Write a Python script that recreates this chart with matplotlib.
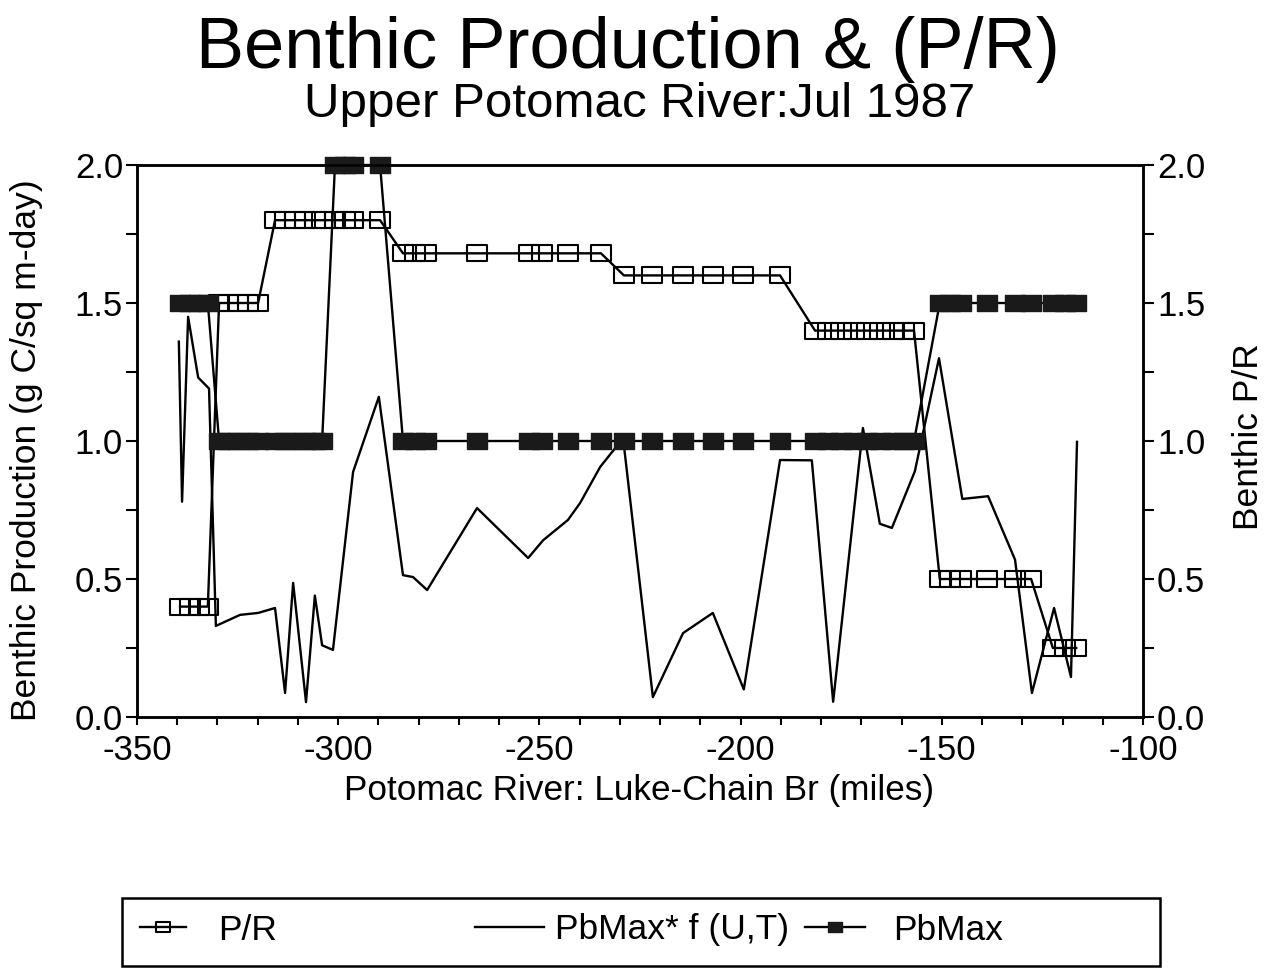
import matplotlib
matplotlib.use("Agg")
import matplotlib.pyplot as plt
from matplotlib.ticker import MultipleLocator, FormatStrFormatter
from matplotlib.path import Path
from matplotlib.patches import Rectangle

plt.rcParams['font.family'] = ['Liberation Sans', 'DejaVu Sans']
plt.rcParams['axes.unicode_minus'] = False

# ---- data (river miles, Luke -> Chain Bridge) ----
seg_miles = [-339.3, -336.8, -334.6, -332.4,
             -329.6, -327.4, -324.9, -322.4, -319.9,
             -315.7, -313.2, -310.7, -308.3, -305.8, -304.0, -300.8, -298.3, -296.3, -289.6,
             -283.9, -280.9, -278.2, -265.5, -252.6, -249.4, -242.9, -234.7,
             -229.0, -222.0, -214.3, -206.9, -199.4, -190.2,
             -181.5, -178.3, -175.0, -171.8, -168.6, -165.4, -162.1, -159.4, -156.9,
             -150.5, -148.0, -145.2, -138.8, -131.8, -127.8,
             -122.4, -119.4, -116.6]

pr_values = [0.4, 0.4, 0.4, 0.4,
             1.5, 1.5, 1.5, 1.5, 1.5,
             1.8, 1.8, 1.8, 1.8, 1.8, 1.8, 1.8, 1.8, 1.8, 1.8,
             1.68, 1.68, 1.68, 1.68, 1.68, 1.68, 1.68, 1.68,
             1.6, 1.6, 1.6, 1.6, 1.6, 1.6,
             1.4, 1.4, 1.4, 1.4, 1.4, 1.4, 1.4, 1.4, 1.4,
             0.5, 0.5, 0.5, 0.5, 0.5, 0.5,
             0.25, 0.25, 0.25]

pbmax_values = [1.5, 1.5, 1.5, 1.5,
                1.0, 1.0, 1.0, 1.0, 1.0,
                1.0, 1.0, 1.0, 1.0, 1.0, 1.0, 2.0, 2.0, 2.0, 2.0,
                1.0, 1.0, 1.0, 1.0, 1.0, 1.0, 1.0, 1.0,
                1.0, 1.0, 1.0, 1.0, 1.0, 1.0,
                1.0, 1.0, 1.0, 1.0, 1.0, 1.0, 1.0, 1.0, 1.0,
                1.5, 1.5, 1.5, 1.5, 1.5, 1.5,
                1.5, 1.5, 1.5]

pbf_miles = [-339.6, -338.8, -337.3, -334.8, -332.1, -330.4, -324.4, -319.9, -315.7, -313.2,
             -311.2, -308.0, -305.8, -304.0, -301.3, -296.3, -289.9, -283.9, -281.4, -277.9,
             -265.5, -252.8, -249.1, -242.9, -239.9, -234.9, -229.2, -221.8, -214.3, -206.9,
             -199.2, -190.2, -182.3, -177.0, -169.6, -165.4, -162.4, -156.7, -150.7, -144.9,
             -138.5, -131.8, -127.6, -122.1, -117.9, -116.4]
pbf_values = [1.36, 0.78, 1.45, 1.23, 1.19, 0.33, 0.37, 0.377, 0.395, 0.087,
              0.486, 0.054, 0.44, 0.26, 0.243, 0.888, 1.16, 0.514, 0.507, 0.46,
              0.757, 0.576, 0.64, 0.714, 0.775, 0.906, 1.01, 0.072, 0.304, 0.377,
              0.10, 0.931, 0.93, 0.055, 1.047, 0.70, 0.685, 0.89, 1.30, 0.79,
              0.80, 0.57, 0.087, 0.395, 0.145, 0.997]

series_labels = ['P/R', 'PbMax* f (U,T)', 'PbMax']

# ---- figure ----
W, H = 1277, 968
fig = plt.figure(figsize=(W / 100, H / 100), dpi=100)
ax = fig.add_axes([137 / W, 1 - 717 / H, (1143 - 137) / W, (717 - 165) / H])

rect = Path([(-1, -0.74), (1, -0.74), (1, 0.74), (-1, 0.74), (-1, -0.74)],
            [Path.MOVETO, Path.LINETO, Path.LINETO, Path.LINETO, Path.CLOSEPOLY])

l_f, = ax.plot(pbf_miles, pbf_values, color='black', lw=1.7, zorder=2)
l_pr, = ax.plot(seg_miles, pr_values, color='black', lw=1.7, marker=rect, ms=15,
                mfc='none', mec='black', mew=1.5, zorder=3)
l_pb, = ax.plot(seg_miles, pbmax_values, color='black', lw=1.7, marker=rect, ms=15,
                mfc='#1a1a1a', mec='#1a1a1a', mew=1.0, zorder=4, clip_on=False)

ax.set_xlim(-350, -100)
ax.set_ylim(0, 2.0)
ax.xaxis.set_major_locator(MultipleLocator(50))
ax.xaxis.set_minor_locator(MultipleLocator(10))
ax.yaxis.set_major_locator(MultipleLocator(0.5))
ax.yaxis.set_minor_locator(MultipleLocator(0.25))
ax.yaxis.set_major_formatter(FormatStrFormatter('%.1f'))
ax.tick_params(axis='x', which='both', direction='out', length=6, width=1.5,
               labelsize=25, pad=6, top=False)
ax.tick_params(axis='y', which='both', direction='out', length=8, width=1.5,
               labelsize=25, pad=2, right=False)
for s in ax.spines.values():
    s.set_linewidth(1.8)

ax2 = ax.twinx()
ax2.set_ylim(0, 2.0)
ax2.yaxis.set_major_locator(MultipleLocator(0.5))
ax2.yaxis.set_minor_locator(MultipleLocator(0.25))
ax2.yaxis.set_major_formatter(FormatStrFormatter('%.1f'))
ax2.tick_params(axis='y', which='both', direction='out', length=8, width=1.5,
                labelsize=25, pad=2)
for s in ax2.spines.values():
    s.set_linewidth(1.8)

fig.text(0.492, 1 - 68 / H, 'Benthic Production & (P/R)', ha='center', va='baseline', fontsize=52)
fig.text(0.501, 1 - 117 / H, 'Upper Potomac River:Jul 1987', ha='center', va='baseline', fontsize=35.5)
fig.text(0.5, 1 - 800 / H, 'Potomac River: Luke-Chain Br (miles)', ha='center', va='baseline', fontsize=25.3)
fig.text(27 / W, 1 - 450 / H, 'Benthic Production (g C/sq m-day)', ha='center', va='center',
         rotation=90, fontsize=25.5)
fig.text(1248 / W, 1 - 437 / H, 'Benthic P/R', ha='center', va='center', rotation=90, fontsize=25.5)

# legend frame and entries
fig.add_artist(Rectangle((122 / W, 1 - 966 / H), (1160 - 122) / W, (966 - 898) / H,
                         transform=fig.transFigure, fill=False, edgecolor='black', lw=1.8))
legend_specs = [(l_pr, series_labels[0], 140, 1.3, 0.9),
                (l_f, series_labels[1], 475, 1.95, 0.3),
                (l_pb, series_labels[2], 805, 1.7, 0.8)]
for handle, label, xpx, hl, htp in legend_specs:
    lg = fig.legend([handle], [label], loc='center left',
                    bbox_to_anchor=(xpx / W, 1 - 930 / H), frameon=False,
                    fontsize=25.5, borderaxespad=0, borderpad=0, markerscale=0.7,
                    handlelength=hl, handletextpad=htp)

fig.savefig('out.png', dpi=100, facecolor='white')
